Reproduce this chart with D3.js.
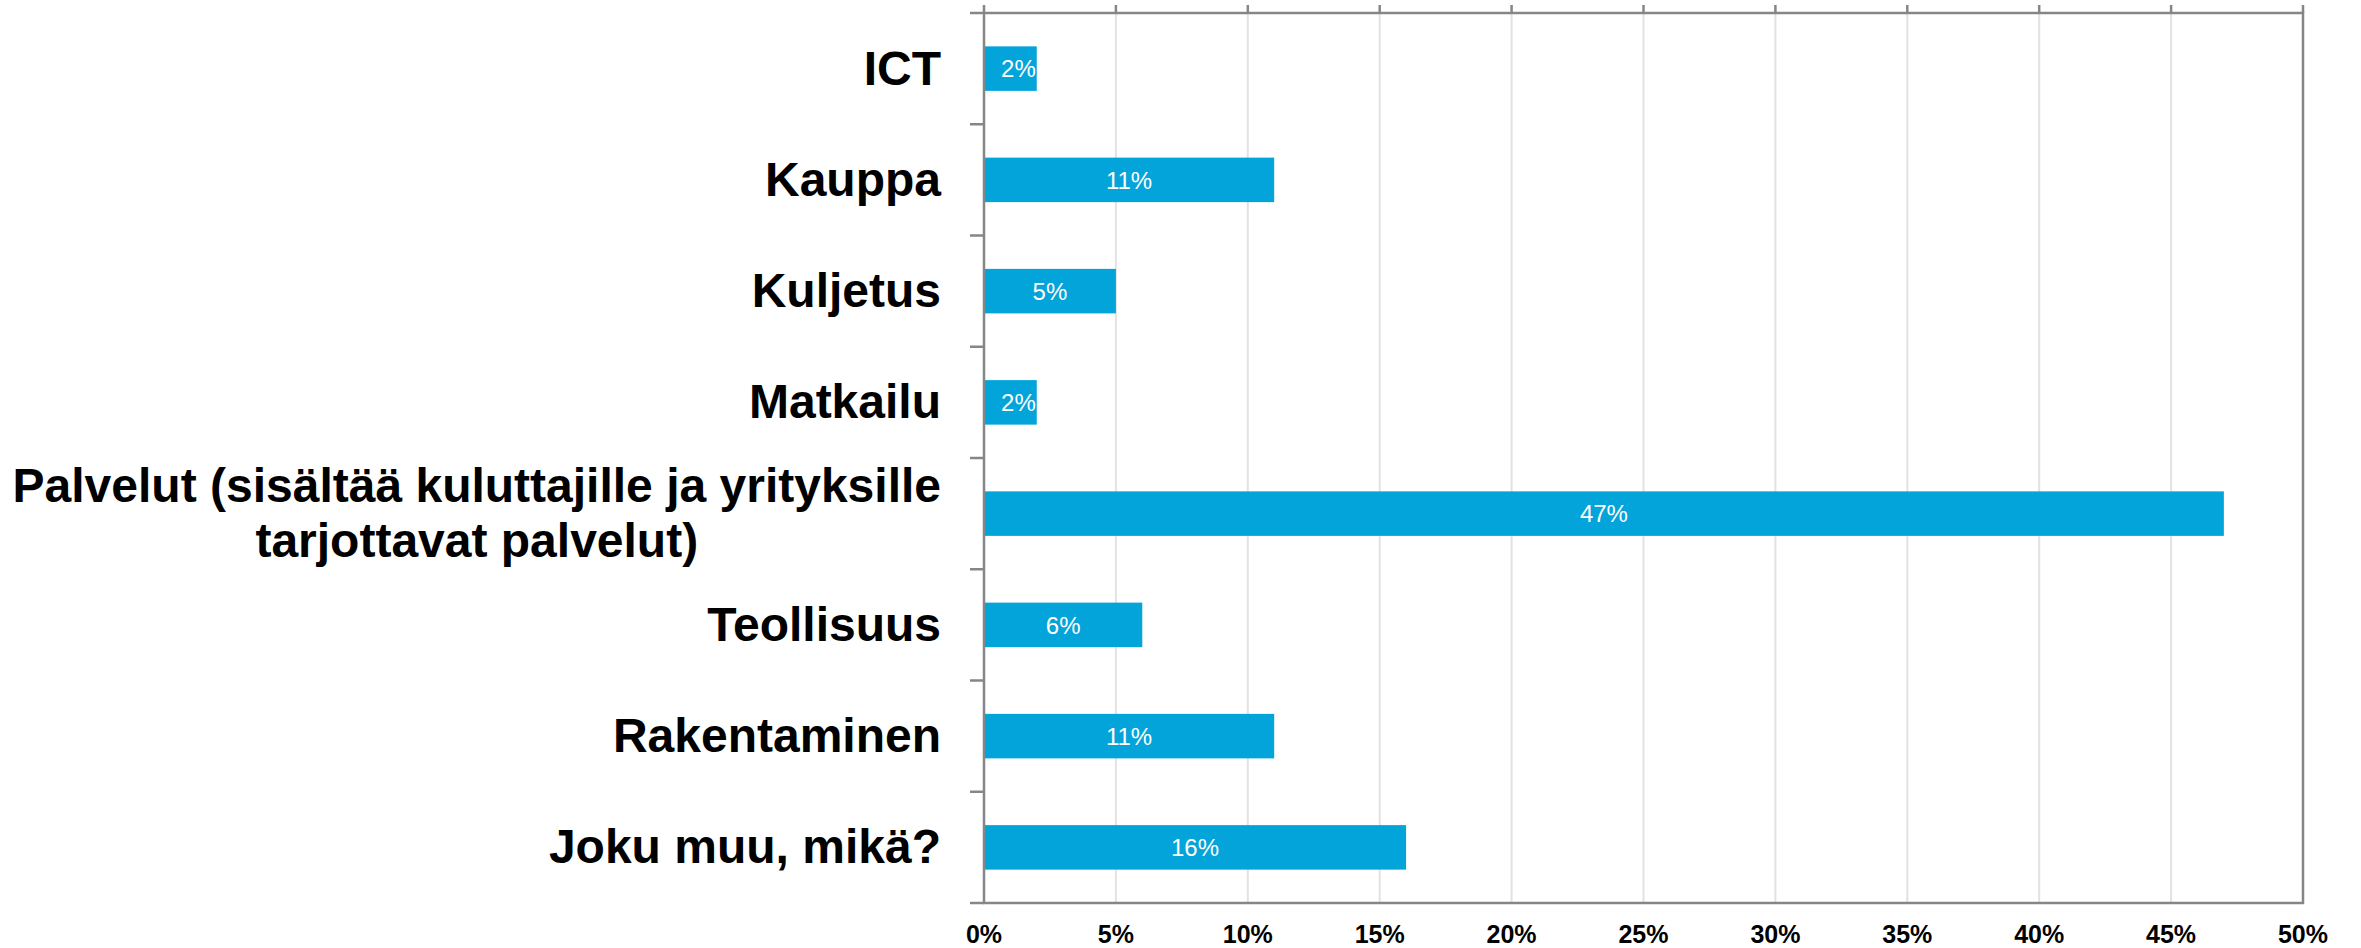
<!DOCTYPE html>
<html lang="fi">
<head>
    <meta charset="UTF-8">
    <title>Toimialat</title>
    <style>
        body { margin: 0; background: #fff; }
        svg { display: block; font-family: "Liberation Sans", Arial, sans-serif; }
    </style>
</head>
<body>
    <div id="chart"></div>

    <script src="https://d3js.org/d3.v7.min.js"></script>
    <script>
        const w = 2361;
        const h = 948;
        const padL = 984;
        const padR = 58;
        const padT = 13;
        const padB = 45;

        const categories = ['ICT', 'Kauppa', 'Kuljetus', 'Matkailu',
                            'Palvelut (sisältää kuluttajille ja yrityksille tarjottavat palvelut)',
                            'Teollisuus', 'Rakentaminen', 'Joku muu, mikä?'];
        const values = [2, 11, 5, 2, 47, 6, 11, 16];
        const xTicks = [0, 5, 10, 15, 20, 25, 30, 35, 40, 45, 50];

        const data = categories.map((c, i) => ({cat: c, val: values[i]}));

        const xScale = d3.scaleLinear()
            .domain([0, 50])
            .range([padL, w - padR]);
        const yScale = d3.scaleBand()
            .domain(categories)
            .range([padT, h - padB])
            .paddingInner(0.6)
            .paddingOuter(0.3);

        const svg = d3.select('#chart')
            .append('svg')
            .attr('width', w)
            .attr('height', h);

        // vertical gridlines
        svg.append('g')
            .selectAll('line')
            .data(xTicks.slice(1, -1))
            .enter()
            .append('line')
            .attr('x1', d => xScale(d))
            .attr('x2', d => xScale(d))
            .attr('y1', padT)
            .attr('y2', h - padB)
            .attr('stroke', '#e2e2e2')
            .attr('stroke-width', 2);

        // bars
        svg.selectAll('rect.bar')
            .data(data)
            .enter()
            .append('rect')
            .attr('class', 'bar')
            .attr('x', xScale(0))
            .attr('y', d => yScale(d.cat))
            .attr('width', d => xScale(d.val) - xScale(0))
            .attr('height', yScale.bandwidth())
            .attr('fill', '#02a4da');

        // value labels
        svg.selectAll('text.val')
            .data(data)
            .enter()
            .append('text')
            .attr('class', 'val')
            .attr('x', d => (xScale(0) + xScale(d.val)) / 2 + (d.val < 3 ? 8 : 0))
            .attr('y', d => yScale(d.cat) + yScale.bandwidth() / 2)
            .attr('dy', '0.36em')
            .attr('text-anchor', 'middle')
            .attr('fill', '#fff')
            .style('font-size', '24px')
            .text(d => d.val + '%');

        // frame round the plot
        const frame = svg.append('g')
            .attr('stroke', '#868686')
            .attr('stroke-width', 2.5)
            .attr('fill', 'none');
        frame.append('rect')
            .attr('x', xScale(0))
            .attr('y', padT)
            .attr('width', xScale(50) - xScale(0))
            .attr('height', h - padB - padT);

        // top ticks
        frame.selectAll('line.xt')
            .data(xTicks)
            .enter()
            .append('line')
            .attr('x1', d => xScale(d))
            .attr('x2', d => xScale(d))
            .attr('y1', padT - 8)
            .attr('y2', padT);

        // category ticks on the left
        const step = yScale.step();
        const bounds = d3.range(categories.length + 1).map(i => padT + i * step);
        frame.selectAll('line.yt')
            .data(bounds)
            .enter()
            .append('line')
            .attr('x1', padL - 14)
            .attr('x2', padL)
            .attr('y1', d => d)
            .attr('y2', d => d);

        // x tick labels at bottom
        svg.append('g')
            .selectAll('text')
            .data(xTicks)
            .enter()
            .append('text')
            .attr('x', d => xScale(d))
            .attr('y', 943)
            .attr('text-anchor', 'middle')
            .style('font-size', '25px')
            .style('font-weight', 'bold')
            .text(d => d + '%');

        // category labels, wrapped, lines centred in their block
        const labelRight = 941;
        const maxW = 940;
        const lineH = 55;
        const labels = svg.append('g')
            .selectAll('text')
            .data(categories)
            .enter()
            .append('text')
            .attr('text-anchor', 'middle')
            .style('font-size', '48px')
            .style('font-weight', 'bold')
            .attr('fill', '#000');

        labels.each(function(d) {
            const t = d3.select(this);
            const words = d.split(' ');
            let lines = [];
            let cur = [];
            const probe = t.append('tspan');
            const measure = s => { probe.text(s); return probe.node().getComputedTextLength(); };
            words.forEach(word => {
                const test = cur.concat([word]).join(' ');
                if (measure(test) > maxW && cur.length) {
                    lines.push(cur.join(' '));
                    cur = [word];
                } else {
                    cur.push(word);
                }
            });
            lines.push(cur.join(' '));
            const widest = d3.max(lines, measure);
            probe.remove();
            const cx = labelRight - widest / 2;
            const cy = yScale(d) + yScale.bandwidth() / 2;
            const first = cy + 16 - (lines.length - 1) * lineH / 2;
            lines.forEach((ln, i) => {
                t.append('tspan')
                    .attr('x', cx)
                    .attr('y', first + i * lineH)
                    .text(ln);
            });
        });
    </script>
</body>
</html>
